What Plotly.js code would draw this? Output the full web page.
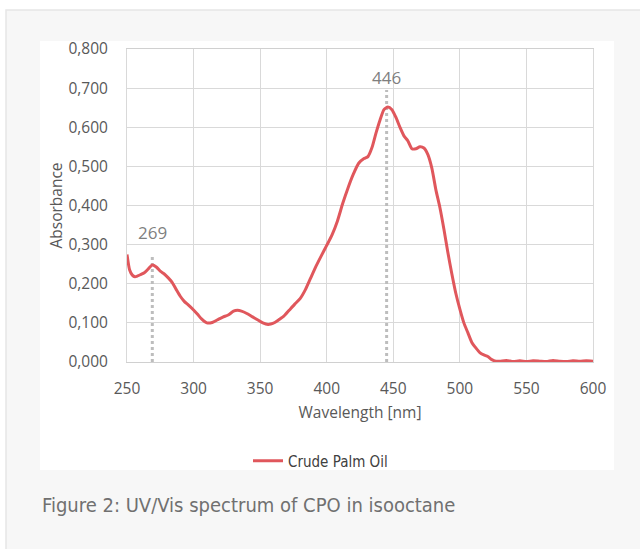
<!DOCTYPE html>
<html><head><meta charset="utf-8">
<script src="https://cdn.plot.ly/plotly-3.0.1.min.js"></script>
<style>html,body{margin:0;padding:0;background:#fff;}#chart{width:640px;height:549px;}</style>
</head><body><div id="chart"></div>
<script>
// Wavelength (nm) and absorbance
const wavelength = [250,252,254,256,258,260,263,266,269,272,275,278,281,284,287,290,293,296,300,303,306,310,314,318,322,326,330,333,336,340,344,348,352,356,358,361,364,368,372,376,380,384,388,392,396,400,404,408,412,416,420,424,428,431,434,437,440,443,446,449,452,455,458,461,464,467,470,473,476,479,482,485,488,491,494,497,500,503,506,509,512,515,518,521,524,527,530,535,540,545,550,555,560,565,570,575,580,585,590,595,600];
const absorbance = [0.275,0.235,0.222,0.218,0.220,0.223,0.228,0.238,0.248,0.243,0.232,0.225,0.215,0.203,0.185,0.168,0.155,0.146,0.133,0.122,0.110,0.100,0.101,0.108,0.115,0.120,0.130,0.132,0.130,0.124,0.116,0.108,0.100,0.096,0.097,0.101,0.108,0.118,0.133,0.148,0.162,0.185,0.215,0.245,0.272,0.298,0.325,0.360,0.405,0.445,0.480,0.508,0.520,0.525,0.548,0.585,0.618,0.645,0.652,0.645,0.625,0.600,0.578,0.565,0.545,0.545,0.550,0.547,0.530,0.495,0.440,0.395,0.340,0.280,0.225,0.175,0.135,0.100,0.075,0.050,0.036,0.024,0.018,0.014,0.006,0.002,0.002,0.004,0.001,0.003,0.001,0.003,0.002,0.001,0.004,0.002,0.001,0.003,0.002,0.003,0.002];
const seriesName = "Crude Palm Oil";
// Peak markers: wavelength, top of dotted guide, label
const peakWl = [269, 445];
const peakTop = [0.273, 0.695];
const peakLabel = ["269", "446"];
const peakLabelY = [0.330, 0.726];
const xTicks = [250,300,350,400,450,500,550,600];
const yTicks = [0,0.1,0.2,0.3,0.4,0.5,0.6,0.7,0.8];
const caption = "Figure 2: UV/Vis spectrum of CPO in isooctane";

// plot-area pixel geometry
const L = 127, R = 593, T = 49, B = 362, W = 640, H = 549;
const px = x => (x - L) / (R - L);
const py = y => (B - y) / (B - T);

const traces = [];
peakWl.forEach((w, i) => {
  traces.push({x:[w,w], y:[0, peakTop[i]], mode:'lines', showlegend:false, hoverinfo:'skip',
    line:{color:'#bdbdbd', width:3, dash:'dot'}});
});
traces.push({x:wavelength, y:absorbance, mode:'lines', name:seriesName,
  line:{color:'#e0575c', width:3, shape:'spline', smoothing:0.6}});

const tickFont = {family:'Open Sans, sans-serif', size:15.5, color:'#595959'};
const layout = {
  width:W, height:H,
  margin:{l:L, r:W-R, t:T, b:H-B},
  paper_bgcolor:'#ffffff', plot_bgcolor:'#ffffff',
  separators:', ',
  showlegend:true,
  xaxis:{range:[250,600], tickvals:xTicks, showgrid:true, gridcolor:'#d9d9d9', gridwidth:1,
    showline:true, linecolor:'#d0d0d0', mirror:true, zeroline:false,
    ticks:'outside', ticklen:12, tickcolor:'rgba(0,0,0,0)', tickfont:tickFont,
    title:{text:'Wavelength [nm]', font:{family:'Open Sans, sans-serif', size:15.5, color:'#595959'}, standoff:9}},
  yaxis:{range:[0,0.8], tickvals:yTicks, tickformat:'.3f', showgrid:true, gridcolor:'#d9d9d9', gridwidth:1,
    showline:true, linecolor:'#d9d9d9', mirror:true, zeroline:false,
    ticks:'outside', ticklen:15, tickcolor:'rgba(0,0,0,0)', tickfont:tickFont,
    title:{text:'Absorbance', font:{family:'Open Sans, sans-serif', size:15.5, color:'#595959'}, standoff:2}},
  legend:{orientation:'h', x:px(248), xanchor:'left', y:py(461), yanchor:'middle',
    font:{family:'Liberation Sans Narrow, DejaVu Sans Condensed, sans-serif', size:15, color:'#404040'},
    bgcolor:'rgba(0,0,0,0)', itemwidth:30},
  shapes:[
    {type:'rect', xref:'paper', yref:'paper', x0:px(0), x1:px(W), y0:py(H), y1:py(0), fillcolor:'#ffffff', line:{width:0}, layer:'below'},
    {type:'rect', xref:'paper', yref:'paper', x0:px(6), x1:px(W+5), y0:py(H+5), y1:py(10), fillcolor:'#f7f7f7', line:{color:'#e6e6e6', width:1.5}, layer:'below'},
    {type:'rect', xref:'paper', yref:'paper', x0:px(40), x1:px(614), y0:py(470), y1:py(41), fillcolor:'#ffffff', line:{width:0}, layer:'below'}
  ],
  annotations: peakWl.map((w,i)=>({x:w, y:peakLabelY[i], xref:'x', yref:'y', text:peakLabel[i], showarrow:false,
      font:{family:'Open Sans, sans-serif', size:17, color:'#7f7f7f'}}))
    .concat([{xref:'paper', yref:'paper', x:px(40), y:py(505), xanchor:'left', yanchor:'middle', text:caption, showarrow:false,
      font:{family:'Liberation Sans Narrow, DejaVu Sans Condensed, sans-serif', size:20, color:'#707070'}}])
};
Plotly.newPlot('chart', traces, layout, {displayModeBar:false, staticPlot:true});
</script></body></html>
